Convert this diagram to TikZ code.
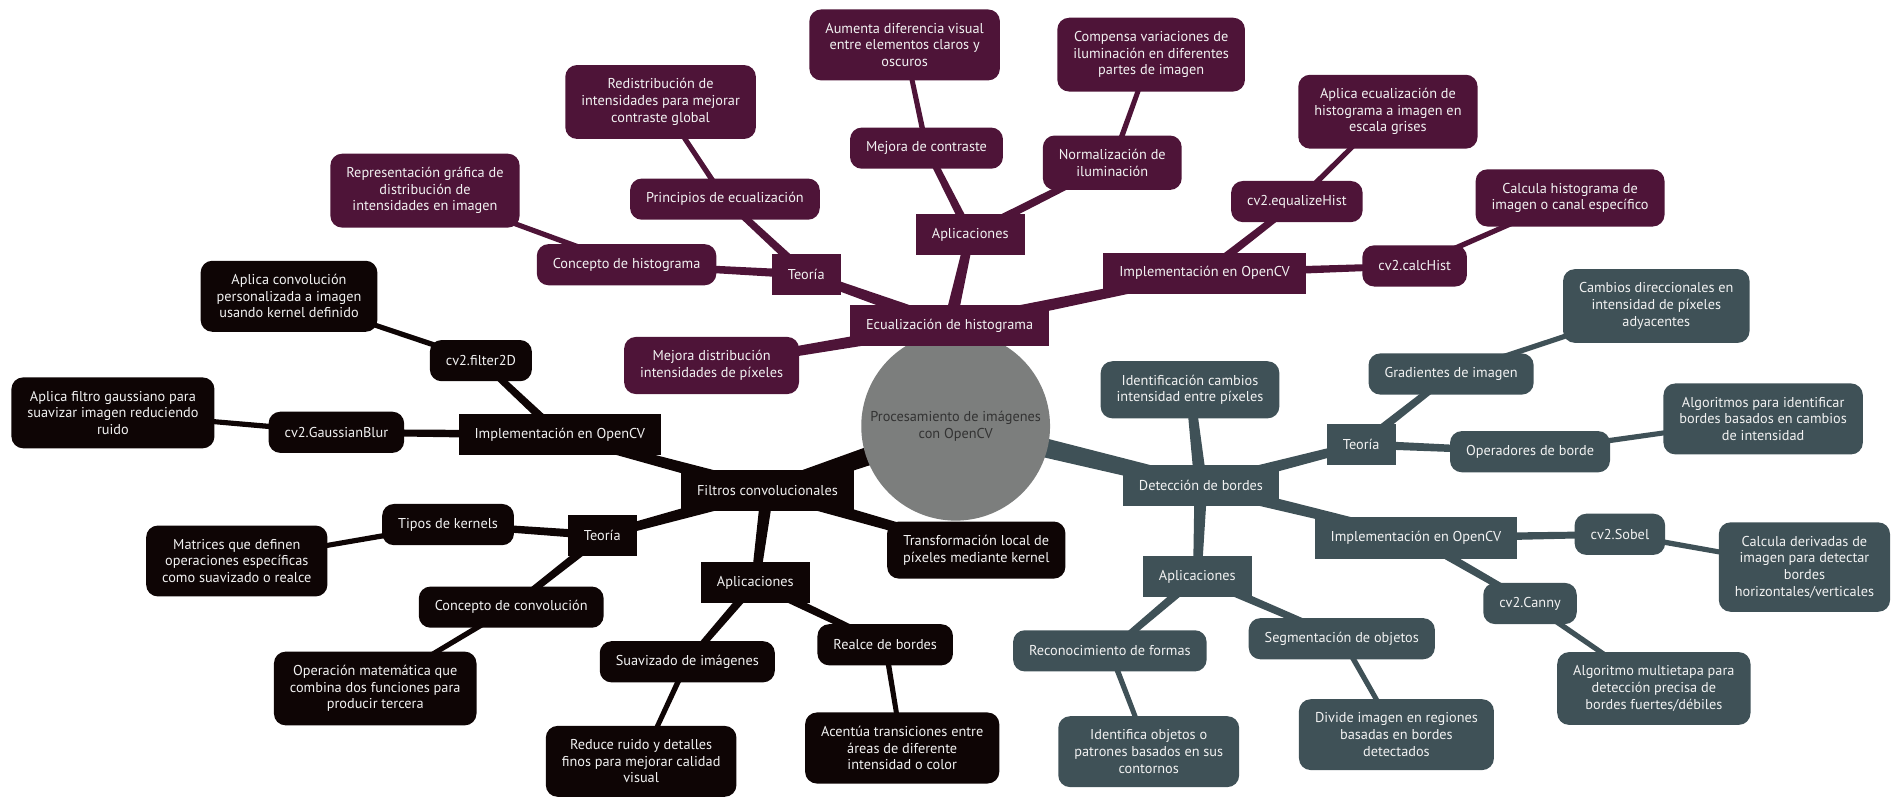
\documentclass[tikz,border=0pt]{standalone}
\usepackage{fontspec}
\setmainfont{PT Sans}
\usepackage{xcolor}
\usetikzlibrary{calc, backgrounds}

\definecolor{plum}{HTML}{4E1438}
\definecolor{ink}{HTML}{0E0505}
\definecolor{slate}{HTML}{3F5157}
\definecolor{hub}{HTML}{7C7E7D}
\definecolor{pale}{HTML}{F2F2F2}

\tikzset{
  box/.style={inner xsep=7.5pt, inner ysep=6.4pt, minimum height=19.3pt,
              align=center, text=pale},
  sect/.style={box, rectangle},
  topic/.style={box, rounded corners=5.5pt},
}

% tapered edge: from, to, half width at from, half width at to, colour
\newcommand\taper[5]{%
  \fill[#5] ($(#1.center)!#3!90:(#2.center)$) -- ($(#2.center)!#4!-90:(#1.center)$)
    -- ($(#2.center)!#4!90:(#1.center)$) -- ($(#1.center)!#3!-90:(#2.center)$) -- cycle;}

\begin{document}
\begin{tikzpicture}[x=0.02cm, y=-0.02cm, font=\fontsize{6.7pt}{7.8pt}\selectfont]

\useasboundingbox (0,0) rectangle (1568,665);

% root
\node[circle, fill=hub, minimum size=88.5pt, inner sep=0pt, align=center,
      text=black!80] (root) at (787,351) {Procesamiento de imágenes\\con OpenCV};

% B1 Ecualizacion de histograma
\node[sect, fill=plum]  (eq)    at (782,268) {Ecualización de histograma};
\node[sect, fill=plum]  (eqT)   at (664,226) {Teoría};
\node[topic, fill=plum] (eqTc)  at (516,218) {Concepto de histograma};
\node[topic, fill=plum] (eqTcd) at (350,157) {Representación gráfica de\\distribución de\\intensidades en imagen};
\node[topic, fill=plum] (eqTp)  at (597,164) {Principios de ecualización};
\node[topic, fill=plum] (eqTpd) at (544,84)  {Redistribución de\\intensidades para mejorar\\contraste global};
\node[sect, fill=plum]  (eqA)   at (799,193) {Aplicaciones};
\node[topic, fill=plum] (eqAm)  at (763,122) {Mejora de contraste};
\node[topic, fill=plum] (eqAmd) at (745,37)  {Aumenta diferencia visual\\entre elementos claros y\\oscuros};
\node[topic, fill=plum] (eqAn)  at (916,134) {Normalización de\\iluminación};
\node[topic, fill=plum] (eqAnd) at (948,45)  {Compensa variaciones de\\iluminación en diferentes\\partes de imagen};
\node[sect, fill=plum]  (eqI)   at (992,225) {Implementación en OpenCV};
\node[topic, fill=plum] (eqIe)  at (1068,166) {cv2.equalizeHist};
\node[topic, fill=plum] (eqIed) at (1143,92) {Aplica ecualización de\\histograma a imagen en\\escala grises};
\node[topic, fill=plum] (eqIc)  at (1165,219) {cv2.calcHist};
\node[topic, fill=plum] (eqIcd) at (1293,163) {Calcula histograma de\\imagen o canal específico};
\node[topic, fill=plum] (eqM)   at (586,301) {Mejora distribución\\intensidades de píxeles};

% B2 Filtros convolucionales
\node[sect, fill=ink]  (fc)    at (632,404) {Filtros convolucionales};
\node[sect, fill=ink]  (fcI)   at (461,358) {Implementación en OpenCV};
\node[topic, fill=ink] (fcIf)  at (396,297) {cv2.filter2D};
\node[topic, fill=ink] (fcIfd) at (238,244) {Aplica convolución\\personalizada a imagen\\usando kernel definido};
\node[topic, fill=ink] (fcIg)  at (277,356) {cv2.GaussianBlur};
\node[topic, fill=ink] (fcIgd) at (93,340)  {Aplica filtro gaussiano para\\suavizar imagen reduciendo\\ruido};
\node[sect, fill=ink]  (fcT)   at (496,441) {Teoría};
\node[topic, fill=ink] (fcTk)  at (369,432) {Tipos de kernels};
\node[topic, fill=ink] (fcTkd) at (195,462) {Matrices que definen\\operaciones específicas\\como suavizado o realce};
\node[topic, fill=ink] (fcTc)  at (421,500) {Concepto de convolución};
\node[topic, fill=ink] (fcTcd) at (309,567) {Operación matemática que\\combina dos funciones para\\producir tercera};
\node[sect, fill=ink]  (fcA)   at (622,480) {Aplicaciones};
\node[topic, fill=ink] (fcAs)  at (566,545) {Suavizado de imágenes};
\node[topic, fill=ink] (fcAsd) at (528,627) {Reduce ruido y detalles\\finos para mejorar calidad\\visual};
\node[topic, fill=ink] (fcAr)  at (729,531) {Realce de bordes};
\node[topic, fill=ink] (fcArd) at (743,616) {Acentúa transiciones entre\\áreas de diferente\\intensidad o color};
\node[topic, fill=ink] (fcL)   at (804,453) {Transformación local de\\píxeles mediante kernel};

% B3 Deteccion de bordes
\node[sect, fill=slate]  (db)    at (989,400)  {Detección de bordes};
\node[topic, fill=slate] (dbD)   at (980,321)  {Identificación cambios\\intensidad entre píxeles};
\node[sect, fill=slate]  (dbT)   at (1121,366) {Teoría};
\node[topic, fill=slate] (dbTg)  at (1195,308) {Gradientes de imagen};
\node[topic, fill=slate] (dbTgd) at (1364,252) {Cambios direccionales en\\intensidad de píxeles\\adyacentes};
\node[topic, fill=slate] (dbTo)  at (1260,372) {Operadores de borde};
\node[topic, fill=slate] (dbTod) at (1452,345) {Algoritmos para identificar\\bordes basados en cambios\\de intensidad};
\node[sect, fill=slate]  (dbI)   at (1166,443) {Implementación en OpenCV};
\node[topic, fill=slate] (dbIs)  at (1334,440) {cv2.Sobel};
\node[topic, fill=slate] (dbIsd) at (1486,467) {Calcula derivadas de\\imagen para detectar\\bordes\\horizontales/verticales};
\node[topic, fill=slate] (dbIc)  at (1260,497) {cv2.Canny};
\node[topic, fill=slate] (dbIcd) at (1362,567) {Algoritmo multietapa para\\detección precisa de\\bordes fuertes/débiles};
\node[sect, fill=slate]  (dbA)   at (986,475)  {Aplicaciones};
\node[topic, fill=slate] (dbAr)  at (914,536)  {Reconocimiento de formas};
\node[topic, fill=slate] (dbArd) at (946,619)  {Identifica objetos o\\patrones basados en sus\\contornos};
\node[topic, fill=slate] (dbAs)  at (1105,526) {Segmentación de objetos};
\node[topic, fill=slate] (dbAsd) at (1150,605) {Divide imagen en regiones\\basadas en bordes\\detectados};

\begin{pgfonlayer}{background}
  \taper{root}{eq}{5pt}{3.5pt}{plum}
  \taper{root}{fc}{5pt}{3.5pt}{ink}
  \taper{root}{db}{5pt}{3.5pt}{slate}

  \foreach \a/\b/\c in {eq/eqT/plum, eq/eqA/plum, eq/eqI/plum, eq/eqM/plum,
      fc/fcI/ink, fc/fcT/ink, fc/fcA/ink, fc/fcL/ink,
      db/dbD/slate, db/dbT/slate, db/dbI/slate, db/dbA/slate}
    \taper{\a}{\b}{3pt}{2pt}{\c};

  \foreach \a/\b/\c in {eqT/eqTc/plum, eqT/eqTp/plum, eqA/eqAm/plum, eqA/eqAn/plum,
      eqI/eqIe/plum, eqI/eqIc/plum,
      fcI/fcIf/ink, fcI/fcIg/ink, fcT/fcTk/ink, fcT/fcTc/ink, fcA/fcAs/ink, fcA/fcAr/ink,
      dbT/dbTg/slate, dbT/dbTo/slate, dbI/dbIs/slate, dbI/dbIc/slate,
      dbA/dbAr/slate, dbA/dbAs/slate}
    \taper{\a}{\b}{2pt}{1.5pt}{\c};

  \foreach \a/\b/\c in {eqTc/eqTcd/plum, eqTp/eqTpd/plum, eqAm/eqAmd/plum, eqAn/eqAnd/plum,
      eqIe/eqIed/plum, eqIc/eqIcd/plum,
      fcIf/fcIfd/ink, fcIg/fcIgd/ink, fcTk/fcTkd/ink, fcTc/fcTcd/ink, fcAs/fcAsd/ink, fcAr/fcArd/ink,
      dbTg/dbTgd/slate, dbTo/dbTod/slate, dbIs/dbIsd/slate, dbIc/dbIcd/slate,
      dbAr/dbArd/slate, dbAs/dbAsd/slate}
    \taper{\a}{\b}{1.3pt}{1.1pt}{\c};
\end{pgfonlayer}

\end{tikzpicture}
\end{document}
